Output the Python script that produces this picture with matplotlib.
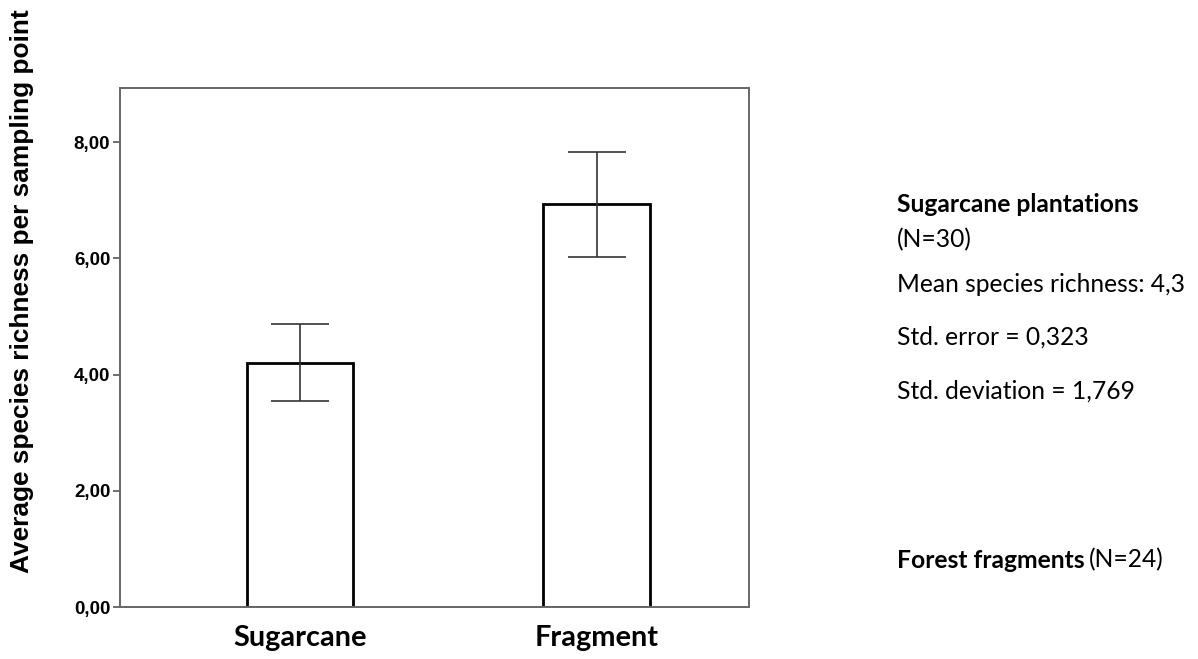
import numpy as np
import matplotlib
matplotlib.use("Agg")
import matplotlib.pyplot as plt

# Data
categories = ["Sugarcane", "Fragment"]
means = [4.20, 6.93]
err_low = [3.55, 6.03]
err_high = [4.87, 7.82]
yticks = [0, 2, 4, 6, 8]
ytick_labels = ["0,00", "2,00", "4,00", "6,00", "8,00"]

FONT = "Lato"

fig = plt.figure(figsize=(11.98, 6.59), dpi=100)
ax = fig.add_axes([0.1002, 0.0789, 0.5250, 0.7876])

x = np.arange(len(categories))
means = np.array(means)
yerr = np.array([means - np.array(err_low), np.array(err_high) - means])

ax.bar(x, means, width=0.36, facecolor="white", edgecolor="black", linewidth=2, zorder=2)
ax.errorbar(x, means, yerr=yerr, fmt="none", ecolor="#333333", elinewidth=1.2,
            capsize=21, capthick=1.2, zorder=3)

ax.set_xlim(-0.606, 1.512)
ax.set_ylim(0, 8.93)
ax.set_yticks(yticks)
ax.set_yticklabels(ytick_labels, fontfamily="Liberation Sans", fontweight="bold", fontsize=13.5)
ax.set_xticks(x)
ax.set_xticklabels(categories, fontfamily=FONT, fontweight="bold", fontsize=20.8)
ax.tick_params(axis="x", length=0, pad=13)
ax.tick_params(axis="y", length=5, width=1.2, color="#555555", pad=2)
for s in ax.spines.values():
    s.set_color("#666666")
    s.set_linewidth(1.4)

fig.text(22 / 1198, 1 - 291 / 659, "Average species richness per sampling point",
         rotation=90, ha="center", va="center", fontfamily="Liberation Sans",
         fontweight="bold", fontsize=18.9)

# Side notes
tx = 897 / 1198
fs = 17.7
fig.text(tx, 1 - 205 / 659, "Sugarcane plantations", fontfamily=FONT,
         fontweight="bold", fontsize=fs, va="center")
fig.text(tx, 1 - 240 / 659, "(N=30)", fontfamily=FONT, fontsize=fs, va="center")
fig.text(tx, 1 - 285 / 659, "Mean species richness: 4,3", fontfamily=FONT, fontsize=fs, va="center")
fig.text(tx, 1 - 337 / 659, "Std. error = 0,323", fontfamily=FONT, fontsize=fs, va="center")
fig.text(tx, 1 - 391 / 659, "Std. deviation = 1,769", fontfamily=FONT, fontsize=fs, va="center")
t = fig.text(tx, 1 - 560 / 659, "Forest fragments", fontfamily=FONT,
             fontweight="bold", fontsize=fs, va="center")
fig.canvas.draw()
bb = t.get_window_extent()
fig.text((bb.x1 + 4) / 1198, 1 - 560 / 659, "(N=24)", fontfamily=FONT, fontsize=fs, va="center")

fig.savefig("out.png", dpi=100)
